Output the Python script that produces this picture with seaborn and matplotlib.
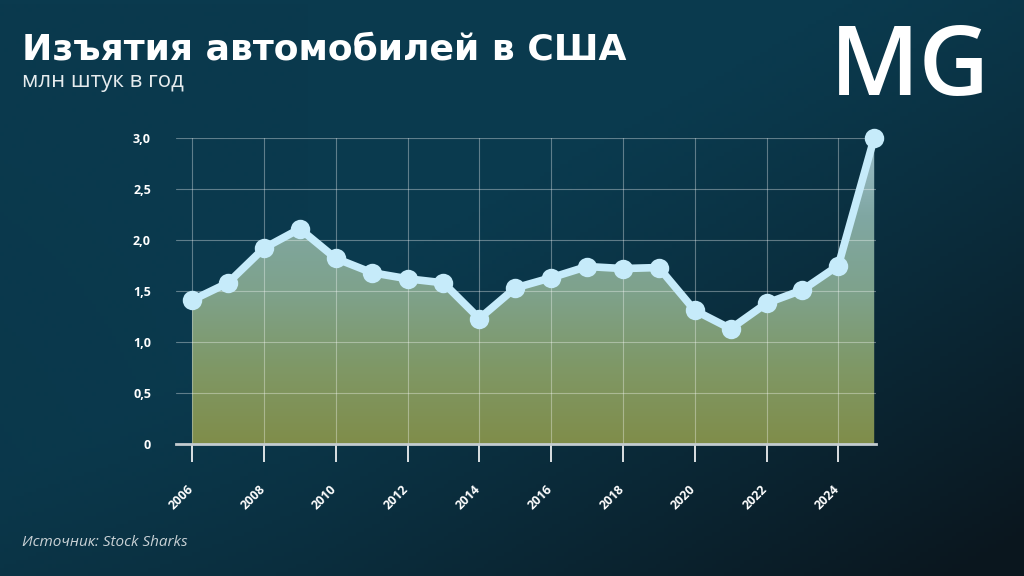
"""
Car repossessions in the USA, 2006-2025 (mln per year).
"""

import matplotlib.pyplot as plt
import numpy as np
import seaborn as sns
from matplotlib.colors import LinearSegmentedColormap, to_rgb
from matplotlib.ticker import FuncFormatter
from matplotlib.transforms import ScaledTranslation

years = list(range(2006, 2026))
repossessions = [1.41, 1.58, 1.92, 2.11, 1.82, 1.68, 1.62, 1.58, 1.23, 1.53,
                 1.63, 1.74, 1.72, 1.73, 1.31, 1.13, 1.38, 1.51, 1.75, 3.00]
x_ticks = list(range(2006, 2025, 2))
y_ticks = [0, 0.5, 1.0, 1.5, 2.0, 2.5, 3.0]

title = "Изъятия автомобилей в США"
subtitle = "млн штук в год"
source = "Источник: Stock Sharks"
logo = "MG"

sns.set_theme(style="dark")
plt.rcParams["font.family"] = ["Open Sans", "DejaVu Sans"]

fig = plt.figure(figsize=(10.24, 5.76), dpi=100)

# background: teal fading to near-black at the bottom right
bg = fig.add_axes([0, 0, 1, 1], zorder=-10)
gx, gy = np.meshgrid(np.linspace(0, 1, 256), np.linspace(0, 1, 144))
d = np.clip(gx * 0.9 + gy * 0.9 - 0.75, 0, 1) ** 1.2
d = np.clip(d + 0.25 * np.clip(0.3 - gx, 0, 1) * gy, 0, 1)
teal = np.array(to_rgb("#0a3a4e"))
dark = np.array(to_rgb("#0a161e"))
img = teal * (1 - d[..., None]) + dark * d[..., None]
bg.imshow(img, aspect="auto", extent=[0, 1, 0, 1], origin="upper")
bg.set_axis_off()

ax = fig.add_axes([176 / 1024, 1 - 444 / 576, 700 / 1024, 306 / 576])
ax.set_facecolor("none")

# gradient area under the line
fill_cmap = LinearSegmentedColormap.from_list(
    "fill", ["#808d4a", "#7f9866", "#7ea28c", "#80a7a3", "#9dbfcc"])
poly = ax.fill_between(years, repossessions, 0, color="none", lw=0)
grad = np.linspace(0, 1, 256).reshape(-1, 1)
im = ax.imshow(grad, cmap=fill_cmap, extent=[2006, 2025, 0, 3.0],
               origin="lower", aspect="auto", zorder=1)
im.set_clip_path(poly.get_paths()[0], ax.transData)

sns.lineplot(x=years, y=repossessions, ax=ax, color="#c6ebfa", linewidth=5.5,
             marker="o", markersize=14, markeredgewidth=0, clip_on=False,
             zorder=4)

ax.set_xlim(2005.55, 2025.05)
ax.set_ylim(0, 3.0)
ax.set_xticks(x_ticks)
ax.set_yticks(y_ticks)
ax.yaxis.set_major_formatter(
    FuncFormatter(lambda v, _: "0" if v == 0 else f"{v:.1f}".replace(".", ",")))
ax.set_axisbelow("line")
ax.grid(True, color="white", alpha=0.35, linewidth=0.8)
ax.set_xlabel("")
ax.set_ylabel("")

for side in ["top", "right", "left"]:
    ax.spines[side].set_visible(False)
ax.spines["bottom"].set_color("#c4ccd0")
ax.spines["bottom"].set_linewidth(2)

ax.tick_params(axis="x", direction="out", length=13, width=1.2,
               color="white", pad=15, bottom=True)
ax.tick_params(axis="y", length=0, pad=18)
shift = ScaledTranslation(-4 / 72, 0, fig.dpi_scale_trans)
for lab in ax.get_xticklabels():
    lab.set_rotation(45)
    lab.set_ha("right")
    lab.set_rotation_mode("anchor")
    lab.set_color("white")
    lab.set_fontsize(9)
    lab.set_fontweight("bold")
    lab.set_transform(lab.get_transform() + shift)
for lab in ax.get_yticklabels():
    lab.set_color("white")
    lab.set_fontsize(9)
    lab.set_fontweight("bold")

fig.text(22 / 1024, 1 - 59 / 576, title, color="white", fontsize=26,
         fontweight="bold", family=["DejaVu Sans"], ha="left", va="baseline")
fig.text(22 / 1024, 1 - 87 / 576, subtitle, color="#e6ecee", fontsize=16,
         ha="left", va="baseline")
fig.text(910 / 1024, 1 - 70 / 576, logo, color="white", fontsize=70,
         fontweight="semibold", ha="center", va="center")
fig.text(22 / 1024, 1 - 546 / 576, source, color="#c9d1d5", fontsize=11,
         style="italic", ha="left", va="baseline")

fig.savefig("out.png", dpi=100)
